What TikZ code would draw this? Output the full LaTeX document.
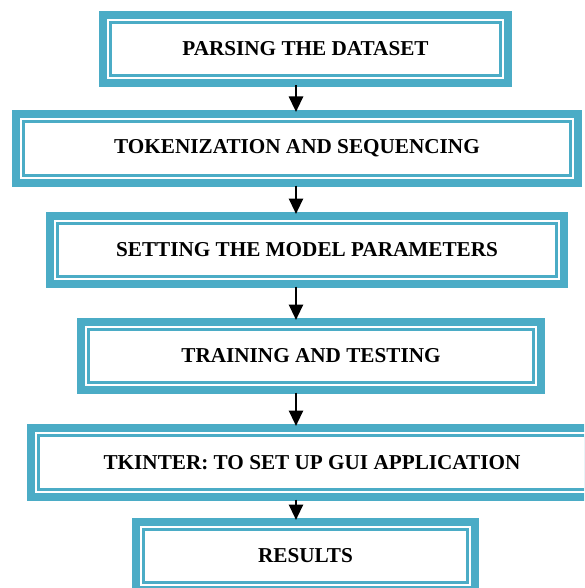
\documentclass[tikz,border=0pt]{standalone}
\usepackage{fontspec}
\setmainfont{Liberation Serif}
\usetikzlibrary{arrows.meta}
\definecolor{bandteal}{HTML}{4BACC6}
\tikzset{
  stage/.style={
    draw=bandteal, line width=7.7pt, fill=white,
    minimum height=68.3pt, inner sep=0pt,
    font=\fontsize{21.2}{25}\selectfont\bfseries,
    path picture={
      \draw[bandteal, line width=2.4pt]
        ([shift={(7.75pt,7.75pt)}]path picture bounding box.south west) rectangle
        ([shift={(-7.75pt,-7.75pt)}]path picture bounding box.north east);
    }
  },
  flow/.style={-{Triangle[width=14pt,length=15.5pt]}, line width=2.6pt, black,
    shorten <=-1.5pt, shorten >=-2pt}
}
\begin{document}
\begin{tikzpicture}[x=1pt, y=-1pt]
  \clip (0,0) rectangle (584,588);
  \fill[white] (0,0) rectangle (584,588);

  % process stages, top to bottom
  \node[stage, minimum width=405.3pt] (parse) at (305.5,49) {PARSING THE DATASET};
  \node[stage, minimum width=562.3pt, minimum height=69.3pt] (token) at (297,148.5) {TOKENIZATION AND SEQUENCING};
  \node[stage, minimum width=514.3pt] (params) at (307,250) {SETTING THE MODEL PARAMETERS};
  \node[stage, minimum width=460.3pt] (train) at (311,356) {TRAINING AND TESTING};
  \node[stage, minimum width=562.3pt, minimum height=69.3pt] (gui) at (312,462.5) {TKINTER: TO SET UP GUI APPLICATION};
  \node[stage, minimum width=339.3pt] (res) at (305.5,556) {RESULTS};

  % common vertical axis of the arrows
  \coordinate (axis) at (296,0);
  \draw[flow] (parse.south -| axis) -- (token.north -| axis);
  \draw[flow] (token.south -| axis) -- (params.north -| axis);
  \draw[flow] (params.south -| axis) -- (train.north -| axis);
  \draw[flow] (train.south -| axis) -- (gui.north -| axis);
  \draw[flow] (gui.south -| axis) -- (res.north -| axis);
\end{tikzpicture}
\end{document}
